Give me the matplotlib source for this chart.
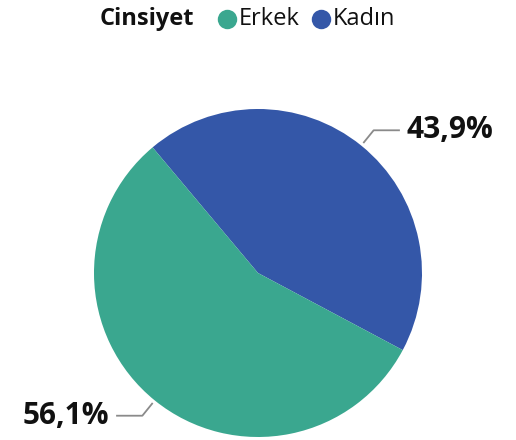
import numpy as np
import matplotlib
matplotlib.use('Agg')
from matplotlib import pyplot as plt
from matplotlib.lines import Line2D

plt.rcParams['font.family'] = ['Open Sans', 'DejaVu Sans']

# data
labels = ['Kadın', 'Erkek']
values = [43.9, 56.1]
colors = ['#3457A8', '#3AA78F']
pct_text = ['43,9%', '56,1%']
legend_title = 'Cinsiyet'
legend_order = ['Erkek', 'Kadın']

W, H = 516, 440
fig = plt.figure(figsize=(W / 100, H / 100), dpi=100)

# pie center / radius in pixels
cx, cy, R = 258, 273, 164
ax = fig.add_axes([(cx - R) / W, (H - cy - R) / H, 2 * R / W, 2 * R / H])
wedges, _ = ax.pie(values, colors=colors, startangle=130, counterclock=False,
                   radius=1, wedgeprops=dict(linewidth=0))
ax.set_xlim(-1, 1)
ax.set_ylim(-1, 1)
ax.set_aspect('auto')
ax.axis('off')

# leader lines and labels
for w, t in zip(wedges, pct_text):
    mid = np.deg2rad((w.theta1 + w.theta2) / 2)
    x0, y0 = 1.02 * np.cos(mid), 1.02 * np.sin(mid)
    x1, y1 = 1.12 * np.cos(mid), 1.12 * np.sin(mid)
    sign = 1 if np.cos(mid) >= 0 else -1
    x2 = x1 + sign * 0.16
    ax.plot([x0, x1, x2], [y0, y1, y1], color='#8a8a8a', lw=1.3,
            clip_on=False, solid_capstyle='butt')
    ax.text(x2 + sign * 0.04, y1, t, ha='left' if sign > 0 else 'right',
            va='center', fontsize=21.5, fontweight='bold', color='#111111',
            clip_on=False)

# legend at top
ty = 1 - 19 / H
fig.text(100 / W, ty, legend_title, fontsize=17, fontweight='bold',
         color='#111111', va='center', ha='left')
xpos = {'Erkek': 227, 'Kadın': 321}
for name in legend_order:
    c = colors[labels.index(name)]
    fig.add_artist(Line2D([xpos[name] / W], [ty], marker='o', markersize=14,
                          color=c, markeredgewidth=0, transform=fig.transFigure))
    fig.text((xpos[name] + 12) / W, ty, name, fontsize=17, color='#111111',
             va='center', ha='left')

fig.savefig('out.png', dpi=100)
